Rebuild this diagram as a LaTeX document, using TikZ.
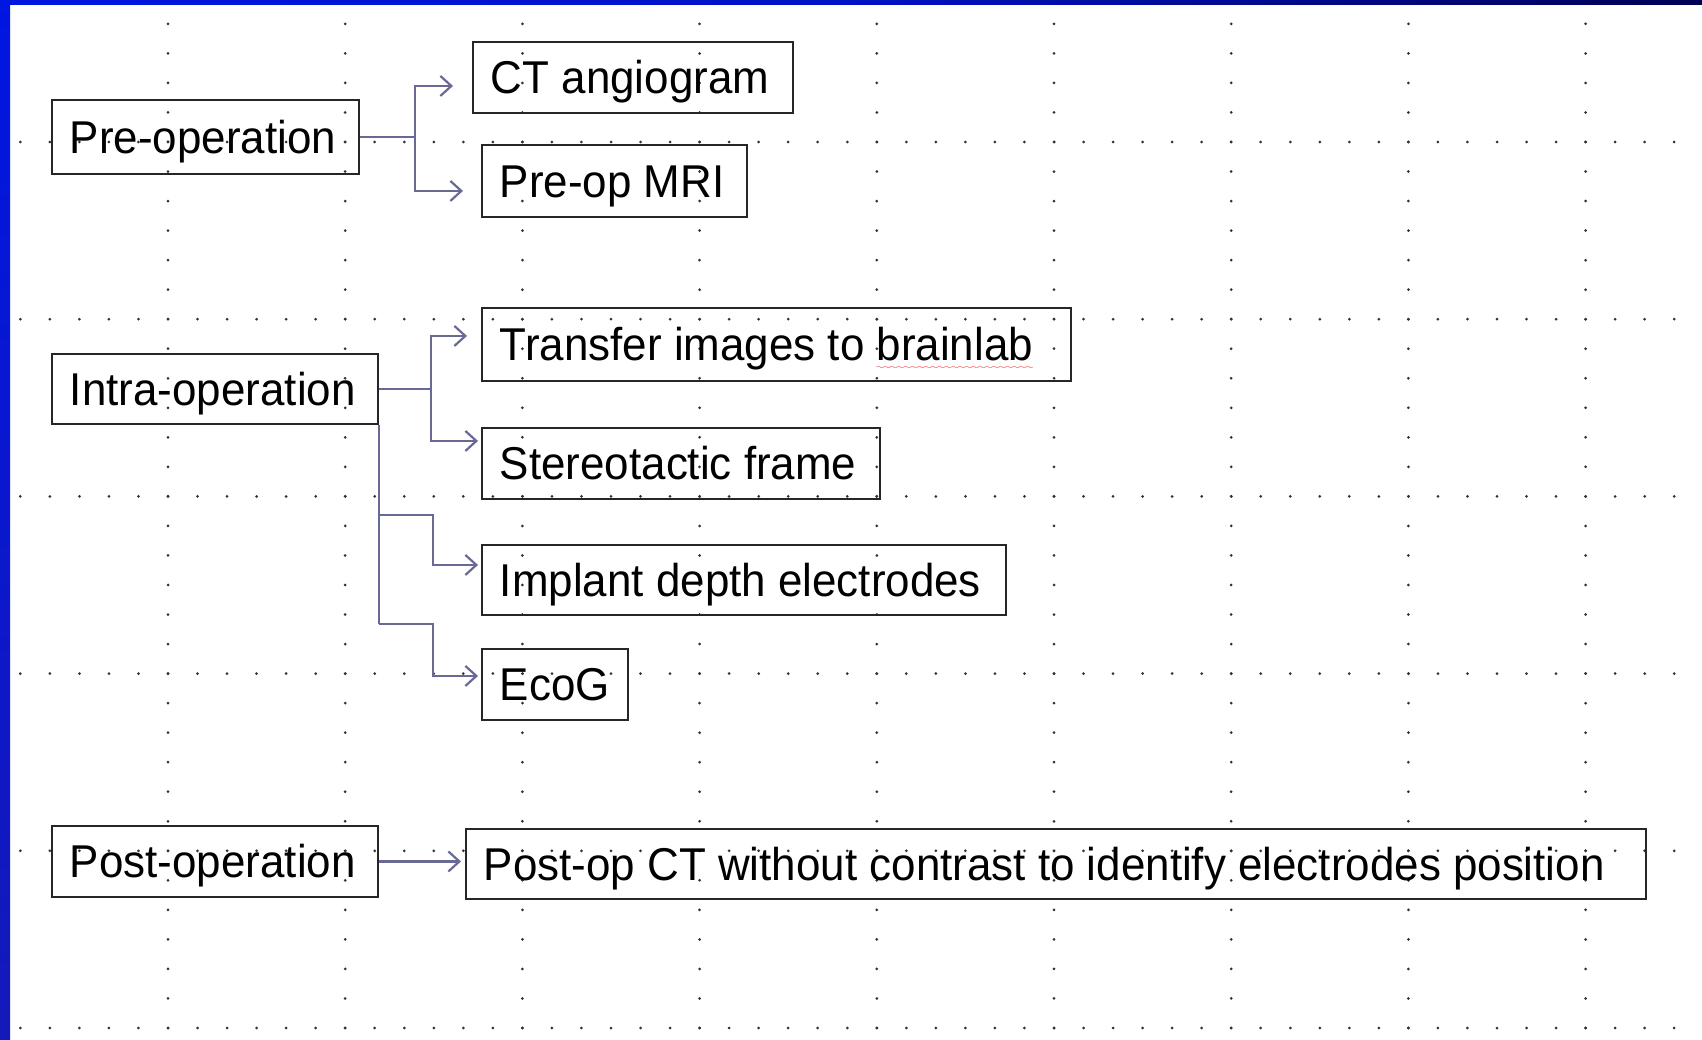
\documentclass[tikz,border=0pt]{standalone}
\usepackage{fontspec}
\setmainfont{Liberation Sans}[FakeStretch=0.955]
\usetikzlibrary{arrows.meta,calc}
\definecolor{arrcol}{RGB}{105,105,150}
\definecolor{dotcol}{RGB}{50,50,50}
\definecolor{bluebright}{RGB}{0,22,225}
\definecolor{bluemid}{RGB}{20,25,185}
\definecolor{bluenavy}{RGB}{0,0,85}
\font\spellwavefont=lasy6 at 8pt
\newcommand\spellwave[1]{\setbox0\hbox{#1}\rlap{\textcolor{red}{\lower9pt\hbox to\wd0{\xleaders\hbox{\spellwavefont\char58}\hfil}}}\box0}
\newcommand\boxtext[2]{\makebox[#1pt][l]{#2}}
\begin{document}
\begin{tikzpicture}[x=1pt,y=-1pt,
  box/.style={draw=black!85, line width=1.9pt, anchor=north west, inner xsep=18pt, inner ysep=0pt,
              text height=33pt, text depth=0pt, font=\fontsize{46}{50}\selectfont},
  conn/.style={draw=arrcol, line width=2.2pt},
  arr/.style={conn, -{Straight Barb[length=11pt,width=20pt]}}]
\useasboundingbox (0,0) rectangle (1702,1040);
\fill[white] (0,0) rectangle (1702,1040);
% grid dots
\foreach \i in {0,...,8}
  \foreach \j in {-4,...,30}
    \fill[dotcol] ({168+177.2*\i},{142+29.533*\j}) circle (1.5);
\foreach \i in {0,...,5}
  \foreach \j in {-5,...,51}
    \fill[dotcol] ({168+29.533*\j},{142+177.2*\i}) circle (1.5);
% border
\shade[top color=bluebright, bottom color=bluemid] (0,0) rectangle (10,1040);
\shade[left color=bluebright, right color=bluenavy, middle color=bluebright!80!bluenavy] (0,0) rectangle (1702,5);
% boxes
\node[box, minimum height=74pt] (pre) at (51,99) {\boxtext{271}{Pre-operation}};
\node[box, minimum height=71pt] (ct) at (472,41) {\boxtext{284}{CT angiogram}};
\node[box, minimum height=72pt] (mri) at (481,144) {\boxtext{229}{Pre-op MRI}};
\node[box, minimum height=70pt] (intra) at (51,353) {\boxtext{290}{Intra-operation}};
\node[box, minimum height=73pt] (transfer) at (481,307) {\boxtext{553}{Transfer images to \spellwave{brainlab}}};
\node[box, minimum height=71pt] (stereo) at (481,427) {\boxtext{362}{Stereotactic frame}};
\node[box, minimum height=70pt] (implant) at (481,544) {\boxtext{488}{Implant depth electrodes}};
\node[box, minimum height=71pt] (ecog) at (481,648) {\boxtext{110}{EcoG}};
\node[box, minimum height=71pt] (post) at (51,825) {\boxtext{290}{Post-operation}};
\node[box, minimum height=70pt] (postct) at (465,828) {\boxtext{1144}{Post-op CT without contrast to identify electrodes position}};
% connectors: pre-operation
\coordinate (pj) at ($(pre.east)+(55,0)$);
\draw[conn] (pre.east) -- (pj);
\draw[arr, shorten >=19pt] (pj) |- ($(ct.west)+(0,8.5)$);
\draw[arr, shorten >=18pt] (pj) |- ($(mri.west)+(0,10)$);
% intra-operation
\coordinate (ij) at ($(intra.east)+(52,0)$);
\draw[conn] (intra.east) -- (ij);
\draw[arr, shorten >=14pt] (ij) |- ($(transfer.west)+(0,-8.5)$);
\draw[arr, shorten >=3pt] (ij) |- ($(stereo.west)+(0,-22.5)$);
\coordinate (k1) at ($(intra.south east)+(0,90)$);
\coordinate (k2) at ($(intra.south east)+(0,199)$);
\draw[conn] (intra.south east) -- (k2);
\draw[arr, shorten >=3pt] (k1) -- ++(54,0) |- ($(implant.west)+(0,-15)$);
\draw[arr, shorten >=3pt] (k2) -- ++(54,0) |- ($(ecog.west)+(0,-8.5)$);
% post-operation
\draw[arr, shorten >=4pt] (post.east) -- (post.east -| postct.west);
\end{tikzpicture}
\end{document}
